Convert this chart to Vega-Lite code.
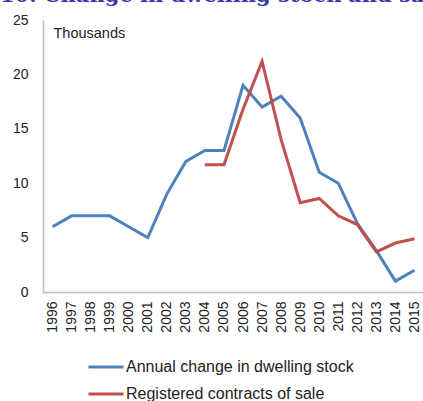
{
  "$schema": "https://vega.github.io/schema/vega-lite/v6.json",
  "autosize": {"type": "none"},
  "padding": {"left": 43, "top": 20, "right": 0, "bottom": 109},
  "width": 381,
  "height": 272,
  "background": "white",
  "title": {
    "text": "10. Change in dwelling stock and sales",
    "anchor": "start",
    "frame": "group",
    "dx": -43,
    "offset": 7,
    "font": "DejaVu Serif",
    "fontSize": 21,
    "fontWeight": "bold",
    "color": "#3535b0"
  },
  "config": {
    "view": {"stroke": null},
    "font": "Liberation Sans"
  },
  "data": {
    "values": [
      {"year": "1996", "series": "Annual change in dwelling stock", "value": 6},
      {"year": "1997", "series": "Annual change in dwelling stock", "value": 7},
      {"year": "1998", "series": "Annual change in dwelling stock", "value": 7},
      {"year": "1999", "series": "Annual change in dwelling stock", "value": 7},
      {"year": "2000", "series": "Annual change in dwelling stock", "value": 6},
      {"year": "2001", "series": "Annual change in dwelling stock", "value": 5},
      {"year": "2002", "series": "Annual change in dwelling stock", "value": 9},
      {"year": "2003", "series": "Annual change in dwelling stock", "value": 12},
      {"year": "2004", "series": "Annual change in dwelling stock", "value": 13},
      {"year": "2005", "series": "Annual change in dwelling stock", "value": 13},
      {"year": "2006", "series": "Annual change in dwelling stock", "value": 19},
      {"year": "2007", "series": "Annual change in dwelling stock", "value": 17},
      {"year": "2008", "series": "Annual change in dwelling stock", "value": 18},
      {"year": "2009", "series": "Annual change in dwelling stock", "value": 16},
      {"year": "2010", "series": "Annual change in dwelling stock", "value": 11},
      {"year": "2011", "series": "Annual change in dwelling stock", "value": 10},
      {"year": "2012", "series": "Annual change in dwelling stock", "value": 6.3},
      {"year": "2013", "series": "Annual change in dwelling stock", "value": 3.8},
      {"year": "2014", "series": "Annual change in dwelling stock", "value": 1},
      {"year": "2015", "series": "Annual change in dwelling stock", "value": 2},
      {"year": "2004", "series": "Registered contracts of sale", "value": 11.7},
      {"year": "2005", "series": "Registered contracts of sale", "value": 11.7},
      {"year": "2006", "series": "Registered contracts of sale", "value": 16.8},
      {"year": "2007", "series": "Registered contracts of sale", "value": 21.2},
      {"year": "2008", "series": "Registered contracts of sale", "value": 14},
      {"year": "2009", "series": "Registered contracts of sale", "value": 8.2},
      {"year": "2010", "series": "Registered contracts of sale", "value": 8.6},
      {"year": "2011", "series": "Registered contracts of sale", "value": 7},
      {"year": "2012", "series": "Registered contracts of sale", "value": 6.2},
      {"year": "2013", "series": "Registered contracts of sale", "value": 3.7},
      {"year": "2014", "series": "Registered contracts of sale", "value": 4.5},
      {"year": "2015", "series": "Registered contracts of sale", "value": 4.9}
    ]
  },
  "mark": {"type": "line", "strokeWidth": 3},
  "encoding": {
    "x": {
      "field": "year",
      "type": "ordinal",
      "scale": {"type": "point", "padding": 0.5},
      "axis": {
        "title": null,
        "labelAngle": -90,
        "labelAlign": "right",
        "labelBaseline": "middle",
        "labelFontSize": 14,
        "labelColor": "#222",
        "labelPadding": 9,
        "ticks": false,
        "domainColor": "#bdbdbd",
        "domainWidth": 1.5
      }
    },
    "y": {
      "field": "value",
      "type": "quantitative",
      "scale": {"domain": [0, 25], "nice": false},
      "axis": {
        "values": [0, 5, 10, 15, 20, 25],
        "title": "Thousands",
        "titleAngle": 0,
        "titleX": 10,
        "titleY": 13,
        "titleAlign": "left",
        "titleBaseline": "middle",
        "titleFontWeight": "normal",
        "titleFontSize": 14.5,
        "titleColor": "#222",
        "labelFontSize": 14,
        "labelColor": "#222",
        "labelPadding": 15,
        "ticks": false,
        "grid": false,
        "domainColor": "#bdbdbd",
        "domainWidth": 1.5
      }
    },
    "color": {
      "field": "series",
      "type": "nominal",
      "scale": {
        "domain": ["Annual change in dwelling stock", "Registered contracts of sale"],
        "range": ["#4f81bd", "#c0504d"]
      },
      "legend": {
        "title": null,
        "orient": "none",
        "legendX": 44,
        "legendY": 328,
        "direction": "vertical",
        "symbolType": "stroke",
        "symbolSize": 1225,
        "symbolStrokeWidth": 3,
        "labelFontSize": 16,
        "labelColor": "#222",
        "labelOffset": 1,
        "labelLimit": 0,
        "rowPadding": -5
      }
    }
  }
}
